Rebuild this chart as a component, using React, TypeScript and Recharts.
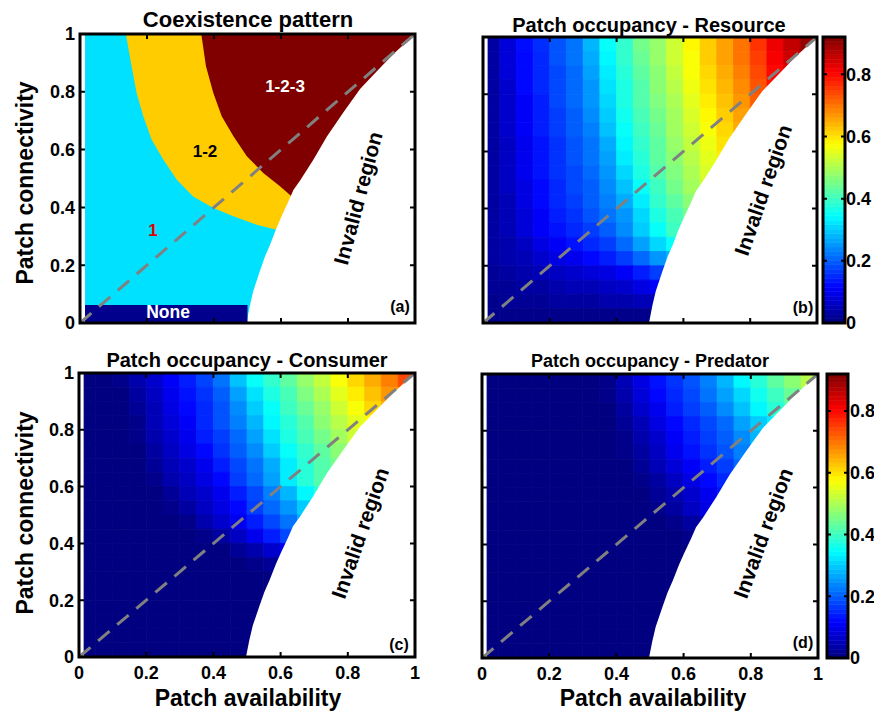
import React from "react";
import { ComposedChart, XAxis, YAxis, Area, Line, ReferenceArea, ReferenceLine } from "recharts";

const FONT = '"Liberation Sans", Arial, Helvetica, sans-serif';

// axes / colour scale
const axisTicks = [0, 0.2, 0.4, 0.6, 0.8, 1];
const barTicks = [0, 0.2, 0.4, 0.6, 0.8];
const colorMax = 0.92;
const colorLevels = 64;

// grid of the occupancy maps (cell edges, left->right and top->bottom)
const colEdges = [0.015, 0.05, 0.1, 0.15, 0.2, 0.25, 0.3, 0.35, 0.4, 0.45, 0.5, 0.55, 0.6, 0.65, 0.7, 0.75, 0.8, 0.85, 0.9, 0.95, 1];
const rowEdges = [1, 0.95, 0.9, 0.85, 0.8, 0.75, 0.7, 0.65, 0.6, 0.55, 0.5, 0.45, 0.4, 0.35, 0.3, 0.25, 0.2, 0.15, 0.1, 0.05, 0];

// edge of the invalid region (white)
const invalidX = [0.497, 0.507, 0.517, 0.537, 0.552, 0.567, 0.587, 0.602, 0.622, 0.637, 0.658, 0.697, 0.737, 0.787, 0.836, 0.886, 0.935, 1.0];
const invalidY = [0, 0.06, 0.11, 0.18, 0.23, 0.27, 0.33, 0.37, 0.42, 0.46, 0.495, 0.566, 0.645, 0.73, 0.81, 0.871, 0.93, 1.0];

// coexistence pattern: lower edge of "1-2" and of "1-2-3"
const band12X = [0.137, 0.154, 0.169, 0.189, 0.214, 0.249, 0.289, 0.338, 0.398, 0.458, 0.527, 0.587, 0.64];
const band12Y = [1.0, 0.888, 0.796, 0.715, 0.634, 0.565, 0.496, 0.438, 0.398, 0.369, 0.34, 0.323, 0.3];
const band123X = [0.362, 0.376, 0.398, 0.423, 0.458, 0.498, 0.547, 0.597, 0.632, 0.66, 1.0];
const band123Y = [1.0, 0.888, 0.796, 0.715, 0.646, 0.577, 0.519, 0.473, 0.438, 0.4, 0.4];
const noneX = [0.015, 0.5];
const noneY = [0.003, 0.062];

// patch occupancy, rows from top (connectivity 1) to bottom, valid cells only
const resource = [
  [0.03, 0.08, 0.125, 0.155, 0.19, 0.22, 0.28, 0.35, 0.39, 0.45, 0.48, 0.53, 0.58, 0.62, 0.66, 0.7, 0.76, 0.82, 0.86, 0.9],
  [0.03, 0.08, 0.12, 0.15, 0.19, 0.22, 0.27, 0.34, 0.39, 0.44, 0.48, 0.53, 0.57, 0.62, 0.66, 0.7, 0.75, 0.81, 0.85, 0.89],
  [0.03, 0.08, 0.12, 0.15, 0.18, 0.21, 0.26, 0.33, 0.38, 0.43, 0.47, 0.52, 0.57, 0.61, 0.65, 0.69, 0.74, 0.8, 0.84],
  [0.03, 0.07, 0.12, 0.15, 0.18, 0.21, 0.25, 0.32, 0.37, 0.42, 0.47, 0.51, 0.56, 0.6, 0.64, 0.68, 0.73, 0.79],
  [0.03, 0.07, 0.11, 0.14, 0.18, 0.21, 0.25, 0.31, 0.37, 0.42, 0.46, 0.5, 0.55, 0.59, 0.63, 0.67, 0.72],
  [0.03, 0.07, 0.11, 0.14, 0.17, 0.2, 0.24, 0.3, 0.36, 0.41, 0.45, 0.49, 0.54, 0.58, 0.62, 0.66],
  [0.03, 0.07, 0.11, 0.14, 0.17, 0.2, 0.23, 0.29, 0.35, 0.4, 0.44, 0.49, 0.53, 0.57, 0.61, 0.65],
  [0.03, 0.06, 0.1, 0.13, 0.16, 0.19, 0.22, 0.27, 0.34, 0.39, 0.43, 0.48, 0.52, 0.56, 0.6],
  [0.03, 0.06, 0.1, 0.13, 0.16, 0.19, 0.22, 0.26, 0.33, 0.38, 0.43, 0.47, 0.51, 0.55, 0.59],
  [0.03, 0.06, 0.1, 0.13, 0.16, 0.18, 0.21, 0.25, 0.31, 0.37, 0.42, 0.46, 0.5, 0.54],
  [0.03, 0.06, 0.09, 0.12, 0.15, 0.18, 0.2, 0.24, 0.29, 0.35, 0.4, 0.45, 0.49, 0.53],
  [0.03, 0.05, 0.09, 0.12, 0.15, 0.17, 0.2, 0.23, 0.27, 0.33, 0.39, 0.43, 0.47],
  [0.03, 0.05, 0.08, 0.11, 0.14, 0.16, 0.19, 0.22, 0.25, 0.31, 0.37, 0.41, 0.45],
  [0.03, 0.05, 0.08, 0.11, 0.13, 0.15, 0.17, 0.2, 0.24, 0.3, 0.35, 0.4, 0.43],
  [0.03, 0.04, 0.06, 0.09, 0.11, 0.13, 0.15, 0.17, 0.21, 0.26, 0.31, 0.35],
  [0.03, 0.04, 0.05, 0.07, 0.09, 0.1, 0.12, 0.14, 0.17, 0.21, 0.25, 0.28],
  [0.02, 0.03, 0.04, 0.05, 0.06, 0.07, 0.08, 0.09, 0.11, 0.14, 0.17, 0.2],
  [0.02, 0.02, 0.03, 0.03, 0.04, 0.05, 0.05, 0.06, 0.07, 0.09, 0.11],
  [0.01, 0.02, 0.02, 0.02, 0.03, 0.03, 0.03, 0.04, 0.04, 0.05, 0.05],
  [0.01, 0.01, 0.01, 0.01, 0.01, 0.01, 0.01, 0.01, 0.01, 0.01, 0.01],
];

const consumer = [
  [0, 0, 0.01, 0.04, 0.07, 0.11, 0.14, 0.175, 0.22, 0.29, 0.35, 0.39, 0.43, 0.48, 0.52, 0.57, 0.61, 0.65, 0.69, 0.74],
  [0, 0, 0, 0.03, 0.06, 0.1, 0.13, 0.16, 0.2, 0.26, 0.32, 0.37, 0.41, 0.46, 0.5, 0.55, 0.59, 0.63, 0.67, 0.71],
  [0, 0, 0, 0.02, 0.05, 0.09, 0.12, 0.15, 0.19, 0.24, 0.3, 0.35, 0.4, 0.44, 0.48, 0.53, 0.57, 0.61, 0.65],
  [0, 0, 0, 0.01, 0.05, 0.08, 0.11, 0.15, 0.19, 0.23, 0.28, 0.34, 0.38, 0.42, 0.47, 0.51, 0.55, 0.58],
  [0, 0, 0, 0.01, 0.04, 0.07, 0.1, 0.14, 0.17, 0.21, 0.26, 0.32, 0.37, 0.41, 0.45, 0.49, 0.53],
  [0, 0, 0, 0, 0.03, 0.06, 0.09, 0.12, 0.16, 0.2, 0.24, 0.3, 0.35, 0.39, 0.43, 0.47],
  [0, 0, 0, 0, 0.02, 0.05, 0.07, 0.1, 0.14, 0.18, 0.22, 0.27, 0.33, 0.38, 0.42, 0.45],
  [0, 0, 0, 0, 0.01, 0.04, 0.06, 0.09, 0.12, 0.17, 0.21, 0.26, 0.33, 0.38, 0.42],
  [0, 0, 0, 0, 0, 0.02, 0.05, 0.07, 0.1, 0.14, 0.18, 0.23, 0.28, 0.34, 0.38],
  [0, 0, 0, 0, 0, 0.01, 0.03, 0.06, 0.09, 0.12, 0.17, 0.21, 0.25, 0.3],
  [0, 0, 0, 0, 0, 0, 0.01, 0.04, 0.07, 0.1, 0.14, 0.18, 0.22, 0.27],
  [0, 0, 0, 0, 0, 0, 0, 0.01, 0.03, 0.06, 0.1, 0.14, 0.18],
  [0, 0, 0, 0, 0, 0, 0, 0, 0, 0.02, 0.04, 0.07, 0.1],
  [0, 0, 0, 0, 0, 0, 0, 0, 0, 0, 0.01, 0.02, 0.02],
  [0, 0, 0, 0, 0, 0, 0, 0, 0, 0, 0, 0],
  [0, 0, 0, 0, 0, 0, 0, 0, 0, 0, 0, 0],
  [0, 0, 0, 0, 0, 0, 0, 0, 0, 0, 0, 0],
  [0, 0, 0, 0, 0, 0, 0, 0, 0, 0, 0],
  [0, 0, 0, 0, 0, 0, 0, 0, 0, 0, 0],
  [0, 0, 0, 0, 0, 0, 0, 0, 0, 0, 0],
];

const predator = [
  [0, 0, 0, 0, 0, 0, 0, 0.01, 0.05, 0.09, 0.13, 0.16, 0.19, 0.23, 0.28, 0.34, 0.38, 0.43, 0.47, 0.51],
  [0, 0, 0, 0, 0, 0, 0, 0.01, 0.04, 0.08, 0.12, 0.15, 0.18, 0.22, 0.26, 0.31, 0.36, 0.4, 0.44, 0.48],
  [0, 0, 0, 0, 0, 0, 0, 0, 0.03, 0.07, 0.1, 0.14, 0.17, 0.2, 0.24, 0.29, 0.34, 0.38, 0.42],
  [0, 0, 0, 0, 0, 0, 0, 0, 0.02, 0.05, 0.09, 0.12, 0.15, 0.18, 0.21, 0.26, 0.3, 0.33],
  [0, 0, 0, 0, 0, 0, 0, 0, 0.01, 0.04, 0.07, 0.11, 0.14, 0.17, 0.2, 0.24, 0.28],
  [0, 0, 0, 0, 0, 0, 0, 0, 0.01, 0.03, 0.06, 0.1, 0.13, 0.16, 0.19, 0.23],
  [0, 0, 0, 0, 0, 0, 0, 0, 0, 0.02, 0.05, 0.08, 0.11, 0.14, 0.17, 0.21],
  [0, 0, 0, 0, 0, 0, 0, 0, 0, 0.01, 0.03, 0.06, 0.09, 0.12, 0.15],
  [0, 0, 0, 0, 0, 0, 0, 0, 0, 0, 0.02, 0.04, 0.07, 0.1, 0.13],
  [0, 0, 0, 0, 0, 0, 0, 0, 0, 0, 0.01, 0.03, 0.06, 0.09],
  [0, 0, 0, 0, 0, 0, 0, 0, 0, 0, 0, 0.01, 0.03, 0.05],
  [0, 0, 0, 0, 0, 0, 0, 0, 0, 0, 0, 0, 0.01],
  [0, 0, 0, 0, 0, 0, 0, 0, 0, 0, 0, 0, 0],
  [0, 0, 0, 0, 0, 0, 0, 0, 0, 0, 0, 0, 0],
  [0, 0, 0, 0, 0, 0, 0, 0, 0, 0, 0, 0],
  [0, 0, 0, 0, 0, 0, 0, 0, 0, 0, 0, 0],
  [0, 0, 0, 0, 0, 0, 0, 0, 0, 0, 0, 0],
  [0, 0, 0, 0, 0, 0, 0, 0, 0, 0, 0],
  [0, 0, 0, 0, 0, 0, 0, 0, 0, 0, 0],
  [0, 0, 0, 0, 0, 0, 0, 0, 0, 0, 0],
];

const invalidData = invalidX.map((x, i) => ({ x, y: invalidY[i] }));
const band12Data = band12X.map((x, i) => ({ x, r: [band12Y[i], 1] }));
const band123Data = band123X.map((x, i) => ({ x, r: [band123Y[i], 1] }));

const clamp = (v: number) => Math.max(0, Math.min(1, v));
function jet(v: number) {
  const t = clamp(v / colorMax);
  const r = clamp(Math.min(4 * t - 1.5, 4.5 - 4 * t));
  const g = clamp(Math.min(4 * t - 0.5, 3.5 - 4 * t));
  const b = clamp(Math.min(4 * t + 0.5, 2.5 - 4 * t));
  return `rgb(${Math.round(r * 255)},${Math.round(g * 255)},${Math.round(b * 255)})`;
}

const tickText = { fill: "#000", fontSize: 18, fontWeight: 700, fontFamily: FONT };

// box + inward tick marks, drawn as line series in data space
function frame(key: string, yMax: number, xt: number[], yt: number[], dx: number, dy: number) {
  const box = [
    { x: 0, y: 0 },
    { x: 1, y: 0 },
    { x: 1, y: yMax },
    { x: 0, y: yMax },
    { x: 0, y: 0 },
  ];
  const marks: { x: number; y: number | null }[] = [];
  xt.forEach((t) => {
    marks.push({ x: t, y: 0 }, { x: t, y: dy }, { x: t, y: null });
    marks.push({ x: t, y: yMax }, { x: t, y: yMax - dy }, { x: t, y: null });
  });
  yt.forEach((t) => {
    marks.push({ x: 0, y: t }, { x: dx, y: t }, { x: dx, y: null });
    marks.push({ x: 1, y: t }, { x: 1 - dx, y: t }, { x: 1, y: null });
  });
  return [
    <Line key={`${key}-marks`} data={marks} dataKey="y" type="linear" stroke="#000" strokeWidth={2} dot={false}
      activeDot={false} connectNulls={false} isAnimationActive={false} />,
    <Line key={`${key}-box`} data={box} dataKey="y" type="linear" stroke="#000" strokeWidth={3} strokeLinecap="square"
      strokeLinejoin="miter" dot={false} activeDot={false} isAnimationActive={false} />,
  ];
}

function axes(xLabels: boolean, yLabels: boolean, bottom: number, left: number) {
  return [
    <XAxis key="xb" type="number" dataKey="x" domain={[0, 1]} ticks={axisTicks} interval={0}
      orientation="bottom" height={bottom} axisLine={false} tickLine={false} tickSize={0} tickMargin={9}
      tick={xLabels ? tickText : false} />,
    <YAxis key="yl" type="number" domain={[0, 1]} ticks={axisTicks} interval={0}
      orientation="left" width={left} axisLine={false} tickLine={false} tickSize={0} tickMargin={5}
      tick={yLabels ? tickText : false} />,
  ];
}

function cells(grid: number[][], key: string) {
  const out: React.ReactNode[] = [];
  grid.forEach((row, j) =>
    row.forEach((v, i) => {
      const c = jet(v);
      out.push(
        <ReferenceArea key={`${key}-${j}-${i}`} x1={colEdges[i]} x2={colEdges[i + 1]} y1={rowEdges[j + 1]} y2={rowEdges[j]}
          fill={c} fillOpacity={1} stroke={c} strokeWidth={0.8} ifOverflow="visible" />
      );
    })
  );
  return out;
}

const invalidMask = (
  <Area key="mask" data={invalidData} dataKey="y" type="linear" fill="#fff" fillOpacity={1} stroke="none"
    dot={false} activeDot={false} isAnimationActive={false} />
);
const diagonal = (
  <ReferenceLine key="diag" segment={[{ x: 0, y: 0 }, { x: 1, y: 1 }]} stroke="#808080" strokeWidth={3}
    strokeDasharray="15 10" ifOverflow="visible" />
);

function Txt({ x, y, size, rot = 0, color = "#000", children }: any) {
  return (
    <div style={{
      position: "absolute", left: x, top: y, transform: `translate(-50%, -50%) rotate(${rot}deg)`,
      fontSize: size, fontWeight: 700, color, whiteSpace: "nowrap", lineHeight: 1, fontFamily: FONT,
    }}>{children}</div>
  );
}

function Colorbar({ left, top, width, height, mTop, bottom, right, plotW, plotH, labelGap }: any) {
  const slices: React.ReactNode[] = [];
  for (let k = 0; k < colorLevels; k++) {
    const lo = (k * colorMax) / colorLevels;
    const hi = ((k + 1) * colorMax) / colorLevels;
    const c = jet((lo + hi) / 2);
    slices.push(
      <Area key={`s${k}`} data={[{ x: 0, r: [lo, hi] }, { x: 1, r: [lo, hi] }]} dataKey="r" type="linear" fill={c} fillOpacity={1}
        stroke={c} strokeWidth={0.6} dot={false} activeDot={false} isAnimationActive={false} />
    );
  }
  return (
    <div style={{ position: "absolute", left, top }}>
      <ComposedChart width={width} height={height} margin={{ top: mTop, right: 0, bottom: 0, left: 3 }}>
        {slices}
        {frame("cb", colorMax, [], barTicks, 4 / plotW, (4 / plotH) * colorMax)}
        <XAxis type="number" dataKey="x" domain={[0, 1]} orientation="bottom" height={bottom} axisLine={false} tickLine={false} tick={false} />
        <YAxis type="number" domain={[0, colorMax]} ticks={barTicks} interval={0} orientation="right"
          width={right} axisLine={false} tickLine={false} tickSize={0} tickMargin={labelGap} tick={tickText} />
      </ComposedChart>
    </div>
  );
}

export default function App() {
  return (
    <div style={{ position: "absolute", left: 0, top: 0, width: 874, height: 711, background: "#fff", overflow: "hidden" }}>
      {/* (a) coexistence pattern */}
      <div style={{ position: "absolute", left: 0, top: 0 }}>
        <ComposedChart width={440} height={340} margin={{ top: 34, right: 25, bottom: 0, left: 0 }}>
          <ReferenceArea x1={0.015} x2={1} y1={0} y2={1} fill="#00e1ff" fillOpacity={1} stroke="none" />
          <Area data={band12Data} dataKey="r" type="linear" fill="#ffcc00" fillOpacity={1} stroke="none" dot={false} activeDot={false} isAnimationActive={false} />
          <Area data={band123Data} dataKey="r" type="linear" fill="#800000" fillOpacity={1} stroke="none" dot={false} activeDot={false} isAnimationActive={false} />
          {invalidMask}
          <ReferenceArea x1={noneX[0]} x2={noneX[1]} y1={noneY[0]} y2={noneY[1]} fill="#00008c" fillOpacity={1} stroke="none" />
          {diagonal}
          {frame("a", 1, axisTicks, axisTicks, 5 / 335, 5 / 289)}
          {axes(false, true, 17, 80)}
        </ComposedChart>
      </div>

      {/* (b) resource */}
      <div style={{ position: "absolute", left: 440, top: 0 }}>
        <ComposedChart width={400} height={340} margin={{ top: 37, right: 23, bottom: 0, left: 0 }}>
          {cells(resource, "r")}
          {invalidMask}
          {diagonal}
          {frame("b", 1, axisTicks, axisTicks, 5 / 334, 5 / 286)}
          {axes(false, false, 17, 43)}
        </ComposedChart>
      </div>
      <Colorbar left={820} top={0} width={54} height={340} mTop={37} bottom={17} right={29} plotW={22} plotH={286} labelGap={1} />

      {/* (c) consumer */}
      <div style={{ position: "absolute", left: 0, top: 340 }}>
        <ComposedChart width={440} height={371} margin={{ top: 33, right: 25, bottom: 0, left: 0 }}>
          {cells(consumer, "c")}
          {invalidMask}
          {diagonal}
          {frame("c", 1, axisTicks, axisTicks, 5 / 336, 5 / 284)}
          {axes(true, true, 54, 79)}
        </ComposedChart>
      </div>

      {/* (d) predator */}
      <div style={{ position: "absolute", left: 440, top: 340 }}>
        <ComposedChart width={400} height={371} margin={{ top: 34, right: 22, bottom: 0, left: 0 }}>
          {cells(predator, "p")}
          {invalidMask}
          {diagonal}
          {frame("d", 1, axisTicks, axisTicks, 5 / 336, 5 / 284)}
          {axes(true, false, 53, 42)}
        </ComposedChart>
      </div>
      <Colorbar left={824} top={340} width={50} height={371} mTop={34} bottom={53} right={26} plotW={21} plotH={284} labelGap={2} />

      <Txt x={248} y={20} size={22}>Coexistence pattern</Txt>
      <Txt x={649} y={25} size={20}>Patch occupancy - Resource</Txt>
      <Txt x={247} y={360} size={20}>Patch occupancy - Consumer</Txt>
      <Txt x={650} y={361} size={18}>Patch occupancy - Predator</Txt>

      <Txt x={25} y={183} size={23} rot={-90}>Patch connectivity</Txt>
      <Txt x={25} y={513} size={23} rot={-90}>Patch connectivity</Txt>
      <Txt x={248} y={698} size={23}>Patch availability</Txt>
      <Txt x={653} y={698} size={23}>Patch availability</Txt>

      <Txt x={358} y={198} size={21} rot={-75}>Invalid region</Txt>
      <Txt x={763} y={190} size={21} rot={-71}>Invalid region</Txt>
      <Txt x={360} y={533} size={21} rot={-71}>Invalid region</Txt>
      <Txt x={763} y={533} size={21} rot={-70}>Invalid region</Txt>

      <Txt x={400} y={307} size={16}>(a)</Txt>
      <Txt x={803} y={308} size={16}>(b)</Txt>
      <Txt x={399} y={645} size={16}>(c)</Txt>
      <Txt x={803} y={643} size={16}>(d)</Txt>

      <Txt x={285} y={86} size={17} color="#fff">1-2-3</Txt>
      <Txt x={205} y={151} size={17}>1-2</Txt>
      <Txt x={153} y={230} size={17} color="#e00000">1</Txt>
      <Txt x={168} y={313} size={17.5} color="#fff">None</Txt>
    </div>
  );
}
